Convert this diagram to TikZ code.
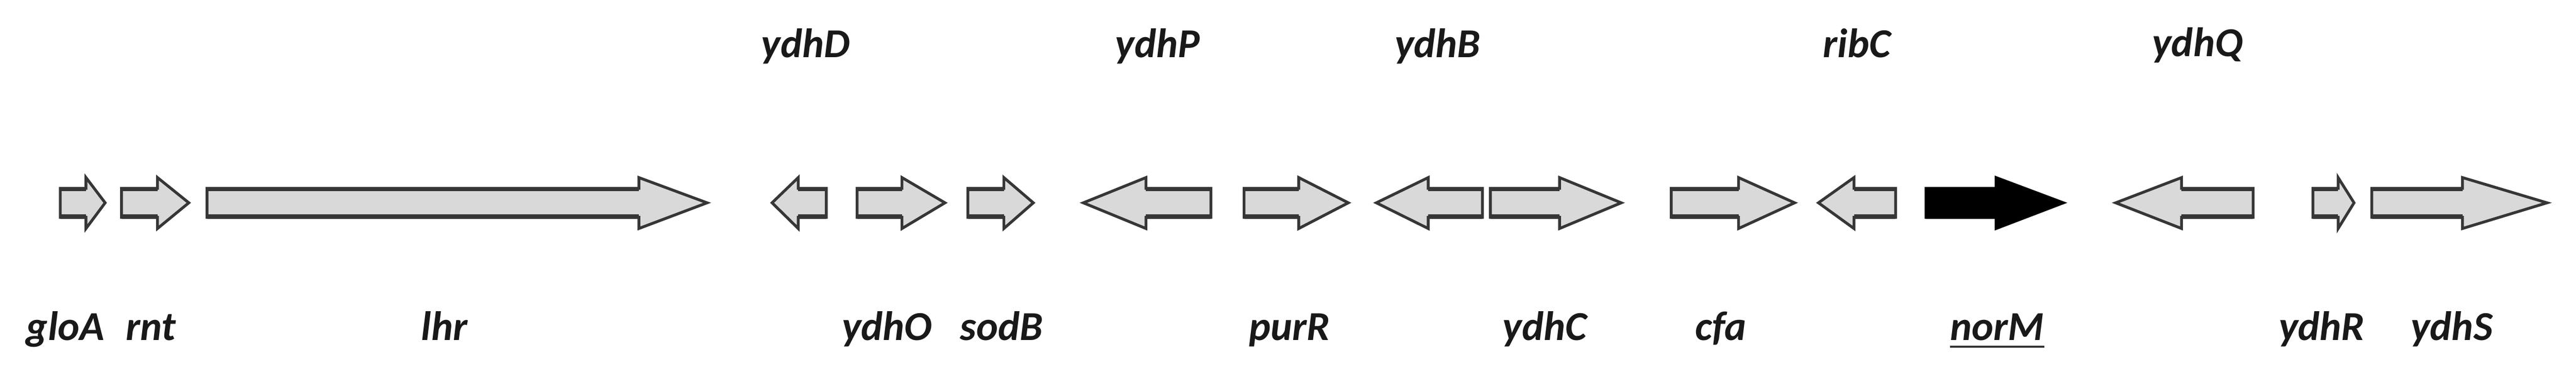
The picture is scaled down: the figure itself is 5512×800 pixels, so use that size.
\documentclass[tikz,border=0pt]{standalone}
\usepackage{fontspec}
\setmainfont{Carlito}
\definecolor{genefill}{HTML}{D9D9D9}
\definecolor{geneline}{HTML}{363636}
\tikzset{
  genebox/.style={fill=genefill, draw=geneline, line width=6pt*0.2845, line join=miter},
  focusbox/.style={fill=black, draw=black, line width=6pt*0.2845, line join=miter},
  genelabel/.style={font=\fontsize{25}{30}\selectfont\bfseries\itshape, inner sep=0pt, anchor=base, text=black!90}
}
% #1 style, #2 name, #3 tail x, #4 head base x, #5 tip x
\newcommand\genearrow[5]{%
  \draw[#1] (#3,403) -- (#4,403) -- (#4,380) -- (#5,434) -- (#4,489) -- (#4,465) -- (#3,465) -- cycle;
  \draw[#1, fill=none, line width=9pt*0.2845] (#3,404.5) -- (#4,404.5) (#3,463.5) -- (#4,463.5);
  \coordinate (#2) at ({(#3+#5)/2},434);
}
\begin{document}
\begin{tikzpicture}[x=0.01cm, y=-0.01cm]
\useasboundingbox (0,0) rectangle (5512,800);
\genearrow{genebox}{gloA}{129}{184}{225}
\genearrow{genebox}{rnt}{260}{337}{404}
\genearrow{genebox}{lhr}{443}{1367}{1513}
\genearrow{genebox}{ydhD}{1768}{1708}{1652}
\genearrow{genebox}{ydhO}{1834}{1930}{2022}
\genearrow{genebox}{sodB}{2071}{2148}{2211}
\genearrow{genebox}{ydhP}{2591}{2452}{2318}
\genearrow{genebox}{purR}{2662}{2779}{2885}
\genearrow{genebox}{ydhB}{3172}{3056}{2945}
\genearrow{genebox}{ydhC}{3189}{3337}{3469}
\genearrow{genebox}{cfa}{3576}{3720}{3840}
\genearrow{genebox}{ribC}{4056}{3967}{3891}
\genearrow{focusbox}{norM}{4121}{4271}{4415}
\genearrow{genebox}{ydhQ}{4821}{4668}{4527}
\genearrow{genebox}{ydhR}{4949}{5003}{5037}
\genearrow{genebox}{ydhS}{5075}{5269}{5450}
% top labels
\node[genelabel] (lydhD) at (1724,123) {ydhD};
\node[genelabel] (lydhP) at (2477,123) {ydhP};
\node[genelabel] (lydhB) at (3076,123) {ydhB};
\node[genelabel] (lribC) at (3973,123) {ribC};
\node[genelabel] (lydhQ) at (4702,121) {ydhQ};
% bottom labels
\node[genelabel] (lgloA) at (140,728) {gloA};
\node[genelabel] (lrnt) at (323,728) {rnt};
\node[genelabel] (llhr) at (951,728) {lhr};
\node[genelabel] (lydhO) at (1898,728) {ydhO};
\node[genelabel] (lsodB) at (2143,728) {sodB};
\node[genelabel] (lpurR) at (2759,728) {purR};
\node[genelabel] (lydhC) at (3305,728) {ydhC};
\node[genelabel] (lcfa) at (3682,728) {cfa};
\node[genelabel] (lnorM) at (4273,728) {norM};
\node[genelabel] (lydhR) at (4968,728) {ydhR};
\node[genelabel] (lydhS) at (5246,728) {ydhS};
\draw[line width=5pt*0.2845, draw=black!80] (lnorM.base west |- 0,742) -- (lnorM.base east |- 0,742);
\end{tikzpicture}
\end{document}
